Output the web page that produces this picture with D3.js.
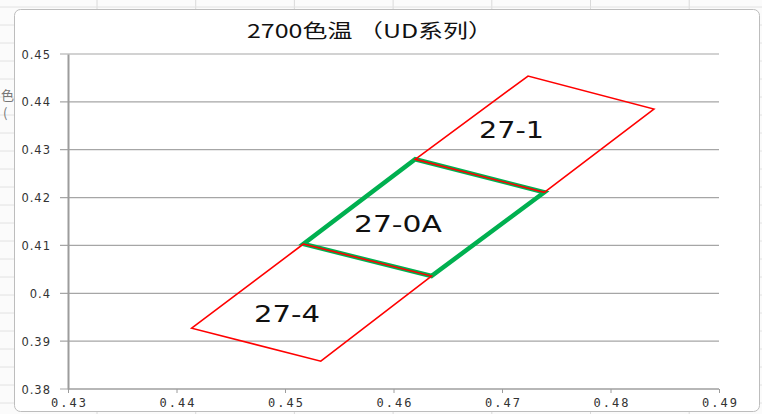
<!DOCTYPE html>
<!-- 2700K colour-temperature bins (UD series), drawn as CIE x/y quadrangles. -->
<meta charset="utf-8">
<style>
 body { margin: 0; background: #fff; }
 .grid line { stroke: #a6a6a6; stroke-width: 1.2px; }
 .axis path, .axis line { stroke: #9c9c9c; }
 .axis text { fill: #333; }
 .bin { fill: none; stroke-linejoin: miter; }
 .lbl { font-family: "DejaVu Sans", sans-serif; fill: #111; }
</style>

<svg class="chart"></svg>

<script src="https://cdn.jsdelivr.net/npm/d3@7"></script>

<script>

 var title = "2700色温 （UD系列）";

 var xTicks = [0.43, 0.44, 0.45, 0.46, 0.47, 0.48, 0.49];
 var yTicks = [0.38, 0.39, 0.40, 0.41, 0.42, 0.43, 0.44, 0.45];

 // bin corners, CIE x / y
 var bin27_1  = [[0.4620, 0.4280], [0.4724, 0.4454], [0.4840, 0.4385], [0.4739, 0.4211]];
 var bin27_0A = [[0.4620, 0.4280], [0.4739, 0.4211], [0.4635, 0.4036], [0.4517, 0.4103]];
 var bin27_4  = [[0.4517, 0.4103], [0.4635, 0.4036], [0.4533, 0.3858], [0.4414, 0.3927]];

 var binNames = ["27-1", "27-0A", "27-4"];
 var binLabelAt = [[0.47088, 0.43243], [0.46041, 0.41276], [0.45018, 0.39393]];

 var width = 762, height = 414;
 var svg = d3.select(".chart").attr("width", width).attr("height", height);

 // spreadsheet behind the chart object
 var sheet = svg.append("g");
 sheet.append("rect").attr("width", width).attr("height", height).attr("fill", "#fbfbfb");
 d3.range(0, 8).forEach(function(i) {
     sheet.append("line").attr("x1", 97 + i * 98.7).attr("x2", 97 + i * 98.7)
          .attr("y1", 0).attr("y2", height).attr("stroke", "#dadada");
 });
 d3.range(0, 24).forEach(function(i) {
     sheet.append("line").attr("x1", 0).attr("x2", width)
          .attr("y1", 18 * i + 7).attr("y2", 18 * i + 7).attr("stroke", "#e2e2e2");
 });
 sheet.append("text").attr("x", 1).attr("y", 100).attr("fill", "#777")
      .style("font", "13px 'Noto Sans CJK SC'").text("色");
 sheet.append("text").attr("x", 3).attr("y", 118).attr("fill", "#777")
      .style("font", "13px 'Noto Sans CJK SC'").text("(");

 // chart frame
 svg.append("rect").attr("x", 14.5).attr("y", 9.5).attr("width", 745).attr("height", 402)
    .attr("rx", 6).attr("fill", "#fff").attr("stroke", "#bdbdbd");

 var x = d3.scaleLinear().domain([0.43, 0.49]).range([68, 719]);
 var y = d3.scaleLinear().domain([0.38, 0.45]).range([389, 54]);

 svg.append("g").attr("class", "grid").selectAll("line").data(yTicks).enter()
    .append("line")
    .attr("x1", x(0.43) - 8).attr("x2", x(0.49))
    .attr("y1", function(d) { return y(d); }).attr("y2", function(d) { return y(d); });

 var yAxis = svg.append("g").attr("class", "axis")
    .attr("transform", "translate(" + x(0.43) + ",0)")
    .call(d3.axisLeft(y).tickValues(yTicks).tickSize(0).tickPadding(17)
          .tickFormat(function(d) { return d3.format("")(+d.toFixed(2)); }));
 yAxis.select(".domain").attr("stroke-width", 2);
 yAxis.selectAll("text").style("font", "11.5px 'DejaVu Sans'").attr("letter-spacing", "1px").attr("dy", "0.36em");

 var xAxis = svg.append("g").attr("class", "axis")
    .attr("transform", "translate(0," + y(0.38) + ")")
    .call(d3.axisBottom(x).tickValues(xTicks).tickSize(4).tickPadding(5)
          .tickFormat(d3.format(".2f")));
 xAxis.select(".domain").attr("stroke-width", 1.2).attr("d", "M" + x(0.43) + ",0H" + x(0.49));
 xAxis.selectAll("text").style("font", "12px 'DejaVu Sans Mono'").attr("letter-spacing", "2px").attr("dx", "1px");

 var line = d3.line().x(function(d) { return x(d[0]); }).y(function(d) { return y(d[1]); })
              .curve(d3.curveLinearClosed);

 svg.append("path").attr("class", "bin").attr("d", line(bin27_0A))
    .attr("stroke", "#00b050").attr("stroke-width", 4.5);

 [bin27_1, bin27_4].forEach(function(b) {
     svg.append("path").attr("class", "bin").attr("d", line(b))
        .attr("stroke", "#ff0000").attr("stroke-width", 1.6);
 });

 var lblWidth = [65, 88, 66];
 svg.selectAll(".lbl").data(binNames).enter().append("text")
    .attr("class", "lbl")
    .attr("x", function(d, i) { return x(binLabelAt[i][0]) - lblWidth[i] / 2; })
    .attr("y", function(d, i) { return y(binLabelAt[i][1]); })
    .attr("textLength", function(d, i) { return lblWidth[i]; })
    .attr("lengthAdjust", "spacingAndGlyphs")
    .style("font-size", "23px")
    .text(function(d) { return d; });

 svg.append("text").attr("x", 247).attr("y", 38)
    .attr("textLength", 246).attr("lengthAdjust", "spacingAndGlyphs")
    .style("font", "19px 'Noto Sans CJK SC'").attr("fill", "#111")
    .text(title);

</script>
